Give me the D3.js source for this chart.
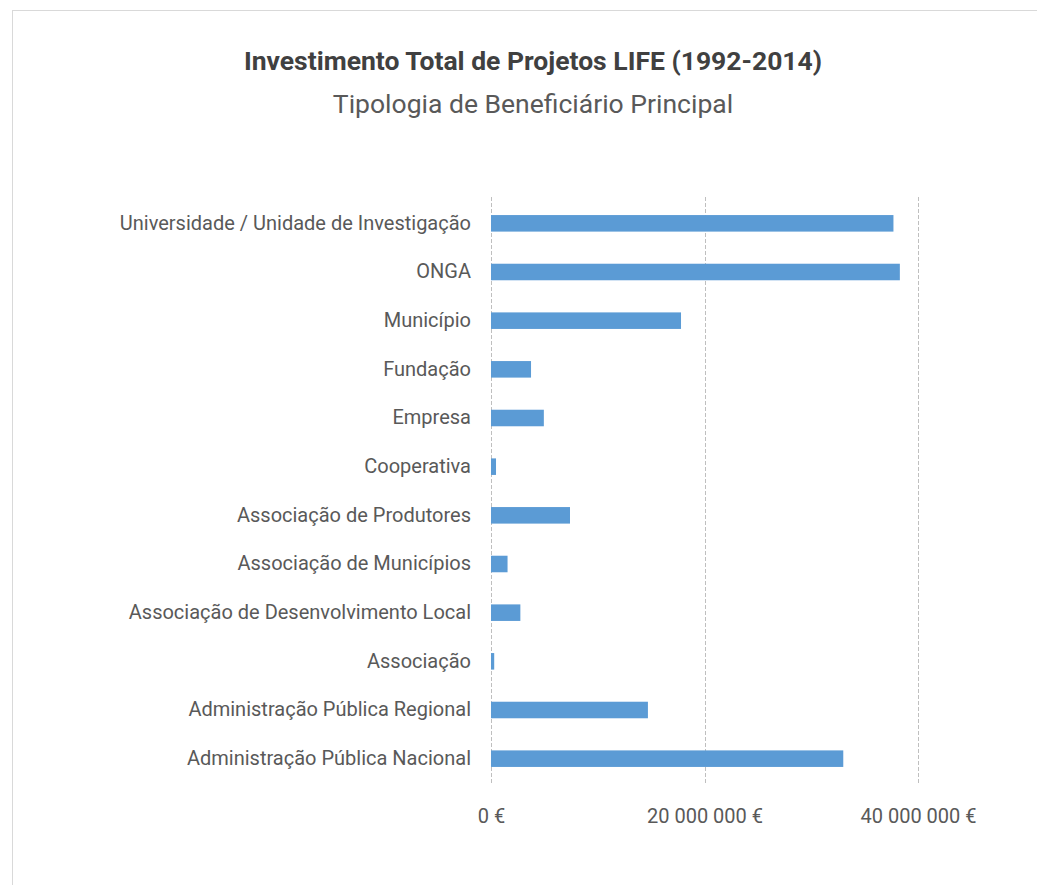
<!DOCTYPE html>
<html>
<head>
<meta charset="utf-8">
<script src="https://cdn.jsdelivr.net/npm/d3@7"></script>
<style>
  body { margin: 0; background: #fff; }
  text { font-family: Roboto, "Open Sans", sans-serif; }
</style>
</head>
<body>
<div id="chart"></div>
<script>
// data (euros)
const categories = [
    "Universidade / Unidade de Investigação",
    "ONGA",
    "Município",
    "Fundação",
    "Empresa",
    "Cooperativa",
    "Associação de Produtores",
    "Associação de Municípios",
    "Associação de Desenvolvimento Local",
    "Associação",
    "Administração Pública Regional",
    "Administração Pública Nacional"
];
const investment = [
    37700000, 38300000, 17800000, 3750000, 4950000, 470000,
    7400000, 1550000, 2750000, 300000, 14700000, 33000000
];
const tickValues = [0, 20000000, 40000000];

const W = 1037, H = 885;
const margin = { top: 199, left: 491, right: 119, bottom: 102 };
const width = W - margin.left - margin.right,
    height = H - margin.top - margin.bottom;

const svg = d3.select("#chart")
    .append("svg")
    .attr("width", W)
    .attr("height", H);

// chart area border (only top/left visible in the crop)
svg.append("rect")
    .attr("x", 12.5)
    .attr("y", 10.5)
    .attr("width", W + 20)
    .attr("height", H + 20)
    .attr("fill", "none")
    .attr("stroke", "#d9d9d9");

svg.append("text")
    .attr("x", 533)
    .attr("y", 70)
    .attr("text-anchor", "middle")
    .attr("font-size", 26.5)
    .attr("font-weight", "bold")
    .attr("fill", "#404040")
    .text("Investimento Total de Projetos LIFE (1992-2014)");

svg.append("text")
    .attr("x", 533)
    .attr("y", 113)
    .attr("text-anchor", "middle")
    .attr("font-size", 26.5)
    .attr("fill", "#595959")
    .text("Tipologia de Beneficiário Principal");

const g = svg.append("g")
    .attr("transform", `translate(${margin.left},${margin.top})`);

let xScale = d3.scaleLinear()
    .domain([0, 40000000])
    .range([0, 427]);

let yScale = d3.scaleBand()
    .domain(categories)
    .range([0, height])
    .paddingInner(0.66)
    .paddingOuter(0.33);

// gridlines
g.append("g")
    .attr("class", "grid")
    .selectAll("line")
    .data(tickValues)
    .enter().append("line")
    .attr("x1", d => Math.round(xScale(d)) + 0.5)
    .attr("x2", d => Math.round(xScale(d)) + 0.5)
    .attr("y1", -2)
    .attr("y2", height + 2)
    .attr("stroke", "#bfbfbf")
    .attr("stroke-dasharray", "4,2");

// x axis labels
let axisX = d3.axisBottom(xScale)
    .tickValues(tickValues)
    .tickSize(0)
    .tickPadding(0)
    .tickFormat(d => d3.format(",")(d).replace(/,/g, " ") + " €");

g.append("g")
    .attr("class", "axis_x")
    .attr("transform", `translate(0, ${height + 26})`)
    .call(axisX)
    .call(a => a.select(".domain").remove())
    .selectAll("text")
    .attr("font-size", 20)
    .attr("fill", "#595959")
    .attr("font-family", "Roboto, sans-serif");

// category labels
let axisY = d3.axisLeft(yScale)
    .tickSize(0)
    .tickPadding(20);

g.append("g")
    .attr("class", "axis_y")
    .call(axisY)
    .call(a => a.select(".domain").remove())
    .selectAll("text")
    .attr("font-size", 20)
    .attr("fill", "#595959")
    .attr("font-family", "Roboto, sans-serif");

// bars
g.append("g")
    .selectAll("rect")
    .data(categories)
    .enter().append("rect")
    .attr("x", 0)
    .attr("y", d => yScale(d))
    .attr("width", (d, i) => xScale(investment[i]))
    .attr("height", yScale.bandwidth())
    .attr("fill", "#5b9bd5");
</script>
</body>
</html>
